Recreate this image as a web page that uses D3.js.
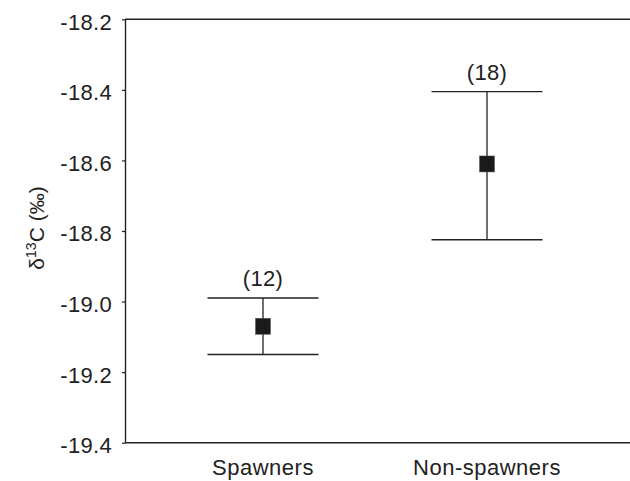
<!DOCTYPE html>
<html>
<head>
<meta charset="utf-8">
<script src="https://cdn.jsdelivr.net/npm/d3@7"></script>
<style>
  html, body { margin: 0; padding: 0; background: #fff; }
  svg { display: block; }
  text { font-family: "Liberation Sans", Arial, sans-serif; fill: #222; }
</style>
</head>
<body>
<svg id="chart" width="630" height="481"></svg>
<script>
const categories = ["Spawners", "Non-spawners"];
const means = [-19.07, -18.61];
const upper = [-18.99, -18.405];
const lower = [-19.15, -18.825];
const sampleSizes = ["(12)", "(18)"];
const yTicks = [-18.2, -18.4, -18.6, -18.8, -19.0, -19.2, -19.4];

(function () {
const svg = d3.select("#chart");
const mLeft = 125, mRight = 630, mTop = 19.3, mBottom = 442.7;
const ink = "#222";

const y = d3.scaleLinear().domain([-19.4, -18.2]).range([mBottom, mTop]);
const x = d3.scalePoint().domain(categories).range([mLeft, 625]).padding(0.616);

// frame: top and bottom lines
svg.append("line").attr("x1", mLeft).attr("x2", mRight).attr("y1", mTop).attr("y2", mTop)
  .attr("stroke", ink).attr("stroke-width", 1.4);
svg.append("line").attr("x1", mLeft).attr("x2", mRight).attr("y1", mBottom).attr("y2", mBottom)
  .attr("stroke", ink).attr("stroke-width", 1.4);

// y axis
const fmt = d => d.toFixed(1).replace("\u2212", "-");
const yAxis = d3.axisLeft(y).tickValues(yTicks).tickFormat(fmt)
  .tickSize(3).tickSizeOuter(0).tickPadding(10);
const gy = svg.append("g").attr("transform", `translate(${mLeft},0)`).call(yAxis);
gy.select(".domain").attr("stroke", ink).attr("stroke-width", 1.4);
gy.selectAll(".tick line").attr("stroke", ink).attr("stroke-width", 1.2);
gy.selectAll(".tick text").attr("font-size", 22).attr("dy", "0.45em")
  .style("font-family", '"Liberation Sans", Arial, sans-serif').attr("fill", ink)
  .attr("letter-spacing", "0.3px");

// x labels
svg.append("g").selectAll("text").data(categories).join("text")
  .attr("x", d => x(d)).attr("y", 475).attr("text-anchor", "middle")
  .attr("font-size", 22).attr("letter-spacing", "0.5px").text(d => d);

// y label
const yl = svg.append("text").attr("transform", "translate(44,228) rotate(-90)")
  .attr("text-anchor", "middle").attr("font-size", 21);
yl.append("tspan").text("δ");
yl.append("tspan").attr("font-size", 14).attr("dy", "-0.6em").text("13");
yl.append("tspan").attr("dy", "0.4em").text("C (‰)");

// error bars
const capHalf = 55.5;
const g = svg.append("g");
categories.forEach((c, i) => {
  const cx = x(c);
  g.append("line").attr("x1", cx).attr("x2", cx).attr("y1", y(upper[i])).attr("y2", y(lower[i]))
    .attr("stroke", ink).attr("stroke-width", 1.3);
  g.append("line").attr("x1", cx - capHalf).attr("x2", cx + capHalf)
    .attr("y1", y(upper[i])).attr("y2", y(upper[i])).attr("stroke", ink).attr("stroke-width", 1.4);
  g.append("line").attr("x1", cx - capHalf).attr("x2", cx + capHalf)
    .attr("y1", y(lower[i])).attr("y2", y(lower[i])).attr("stroke", ink).attr("stroke-width", 1.4);
  g.append("rect").attr("x", cx - 7.5).attr("y", y(means[i]) - 8).attr("width", 15).attr("height", 16)
    .attr("fill", "#1a1a1a").attr("stroke", "#555").attr("stroke-width", 0.5);
  g.append("text").attr("x", cx).attr("y", y(upper[i]) - 12).attr("text-anchor", "middle")
    .attr("font-size", 22).attr("letter-spacing", "0.3px").text(sampleSizes[i]);
});
})();
</script>
</body>
</html>
